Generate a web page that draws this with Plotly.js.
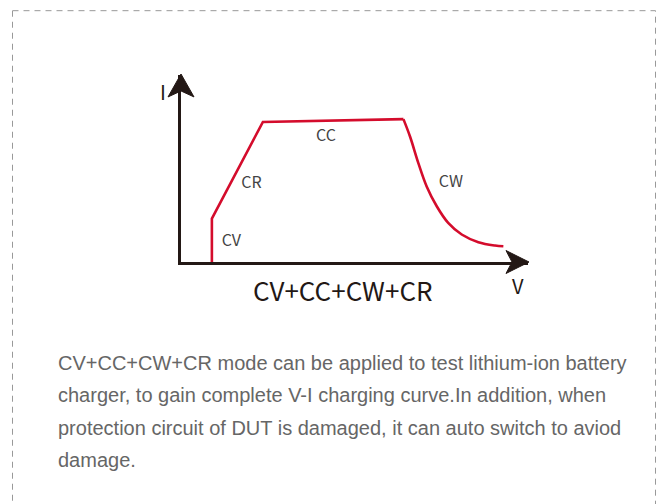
<!DOCTYPE html>
<html>
<head>
<meta charset="utf-8">
<script src="https://cdn.plot.ly/plotly-3.0.1.min.js"></script>
<style>html,body{margin:0;padding:0;background:#fff;}#chart{width:662px;height:504px;}</style>
</head>
<body>
<div id="chart"></div>
<script>
// Piecewise-linear part of the charging curve (CV, CR, CC)
const linearV = [0.89, 0.89, 2.36, 6.41];
const linearI = [0, 2.32, 7.49, 7.64];
// CW (constant power) part of the curve
const cwV = [6.41, 6.60, 6.84, 7.08, 7.37, 7.70, 8.09, 8.57, 9.05, 9.29];
const cwI = [7.64, 6.71, 5.29, 4.04, 2.98, 2.09, 1.47, 1.06, 0.88, 0.84];
// Mode labels
const modeLabels = ['CV', 'CR', 'CC', 'CW'];
const labelV = [1.45, 2.03, 4.18, 7.78];
const labelI = [1.07, 4.16, 6.69, 4.22];
// Texts
const xAxisLabel = 'V';
const yAxisLabel = 'I';
const caption = 'CV+CC+CW+CR';
const paragraphLines = [
  'CV+CC+CW+CR mode can be applied to test lithium-ion battery',
  'charger, to gain complete V-I charging curve.In addition, when',
  'protection circuit of DUT is damaged, it can auto switch to aviod',
  'damage.'
];

const red = '#d40c2c';
const dark = '#231815';
const chartFont = "'Noto Sans CJK SC', 'Noto Sans', sans-serif";
const paraFont = "'Liberation Sans', Arial, Helvetica, sans-serif";

const traces = [
  {x: linearV, y: linearI, type: 'scatter', mode: 'lines', line: {color: red, width: 2.6}, hoverinfo: 'skip', cliponaxis: false},
  {x: cwV, y: cwI, type: 'scatter', mode: 'lines', line: {color: red, width: 2.6, shape: 'spline', smoothing: 1}, hoverinfo: 'skip', cliponaxis: false},
  {x: labelV, y: labelI, text: modeLabels, type: 'scatter', mode: 'text', textposition: 'middle center',
   textfont: {family: chartFont, size: 16, color: '#444'}, hoverinfo: 'skip', cliponaxis: false}
];

// pixel -> paper helpers (plot area: x 181..528, y 75..262.5)
const L = 181, R = 528, T = 75, B = 262.5;
const px = v => (v - L) / (R - L);
const py = v => (B - v) / (B - T);

const annotations = [
  {text: yAxisLabel, x: px(163), y: py(92), xref: 'paper', yref: 'paper', showarrow: false,
   xanchor: 'center', yanchor: 'middle', font: {family: chartFont, size: 20, color: dark}},
  {text: xAxisLabel, x: px(518), y: py(286), xref: 'paper', yref: 'paper', showarrow: false,
   xanchor: 'center', yanchor: 'middle', font: {family: chartFont, size: 20, color: dark}},
  {text: caption, x: px(342), y: py(290.5), xref: 'paper', yref: 'paper', showarrow: false,
   xanchor: 'center', yanchor: 'middle', font: {family: chartFont, size: 26, color: dark}}
];
const lineCenters = [363.5, 396, 428.5, 461];
paragraphLines.forEach((t, i) => {
  annotations.push({text: t, x: px(55.5), y: py(lineCenters[i]), xref: 'paper', yref: 'paper', showarrow: false,
    xanchor: 'left', yanchor: 'middle', font: {family: paraFont, size: 20, color: '#666'}});
});

const shapes = [
  // dashed frame
  {type: 'rect', xref: 'paper', yref: 'paper', x0: px(12.5), x1: px(655.5), y0: py(10.5), y1: py(560),
   line: {color: '#999', width: 1, dash: '6px,5px'}, fillcolor: 'rgba(0,0,0,0)', layer: 'below'},
  // y arrow head
  {type: 'path', xref: 'paper', yref: 'paper',
   path: `M ${px(181)} ${py(74)} L ${px(168)} ${py(97)} L ${px(181)} ${py(91)} L ${px(194)} ${py(97)} Z`,
   fillcolor: dark, line: {color: dark, width: 1}},
  // x arrow head
  {type: 'path', xref: 'paper', yref: 'paper',
   path: `M ${px(529)} ${py(262.5)} L ${px(506)} ${py(251)} L ${px(512)} ${py(262.5)} L ${px(506)} ${py(274)} Z`,
   fillcolor: dark, line: {color: dark, width: 1}}
];

const layout = {
  width: 662, height: 504,
  margin: {l: L, r: 662 - R, t: T, b: 504 - B, pad: 0},
  paper_bgcolor: '#fff', plot_bgcolor: '#fff',
  showlegend: false,
  xaxis: {range: [0, 10], showgrid: false, zeroline: false, showticklabels: false, ticks: '',
          showline: true, linecolor: dark, linewidth: 3, fixedrange: true},
  yaxis: {range: [0, 10], showgrid: false, zeroline: false, showticklabels: false, ticks: '',
          showline: true, linecolor: dark, linewidth: 3, fixedrange: true},
  annotations: annotations,
  shapes: shapes
};

Plotly.newPlot('chart', traces, layout, {displayModeBar: false, staticPlot: true});
</script>
</body>
</html>
